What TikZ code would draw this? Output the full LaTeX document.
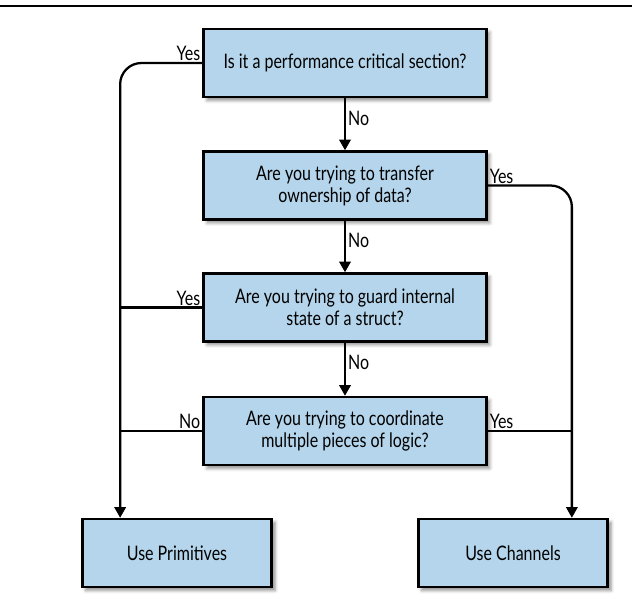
\documentclass[tikz,border=0pt]{standalone}
\usepackage{fontspec}
\setmainfont{Lato}[FakeStretch=0.8]
\usepackage{xcolor}
\usetikzlibrary{arrows.meta,calc,shadows.blur}
\definecolor{boxblue}{RGB}{180,213,235}

\begin{document}
\begin{tikzpicture}[x=0.75pt,y=-0.75pt,
		font=\fontsize{15}{16.5}\selectfont,
		decision/.style={draw=black,line width=1.8pt,fill=boxblue,align=center,
			minimum width=212pt,minimum height=51pt,inner sep=2pt,
			blur shadow={shadow xshift=2.5pt,shadow yshift=-2.5pt,shadow blur radius=2.5pt,shadow opacity=45}},
		result/.style={decision,minimum width=142pt},
		flow/.style={line width=1.7pt},
		arr/.style={flow,-{Triangle[width=8.5pt,length=8pt]}},
		lbl/.style={inner sep=1.5pt}]
		\useasboundingbox (0,0) rectangle (632,610);
		\draw[line width=1.2pt](0,6)--(632,6);
		% questions
		\node[decision] (q1) at (345,63) {Is it a performance critical section?};
		\node[decision] (q2) at (345,185.5) {Are you trying to transfer\\ownership of data?};
		\node[decision] (q3) at (345,307.5) {Are you trying to guard internal\\state of a struct?};
		\node[decision] (q4) at (345,431) {Are you trying to coordinate\\multiple pieces of logic?};
		% answers
		\node[result] (prim) at (177,553) {Use Primitives};
		\node[result] (chan) at (513,553) {Use Channels};
		\coordinate (pin) at ($(prim.north west)+(39,0)$);
		\coordinate (cin) at ($(chan.north east)+(-37,0)$);
		% No branches
		\draw[arr](q1)--(q2)node[pos=0.38,right,lbl]{No};
		\draw[arr](q2)--(q3)node[pos=0.38,right,lbl]{No};
		\draw[arr](q3)--(q4)node[pos=0.38,right,lbl]{No};
		% side branches
		\draw[arr,rounded corners=16pt](q1.west)-|(pin);
		\draw[arr,rounded corners=16pt](q2.east)-|(cin);
		\draw[flow](q3.west)--(q3.west-|pin);
		\draw[flow](q4.west)--(q4.west-|pin);
		\draw[flow](q4.east)--(q4.east-|cin);
		\node at(q1.west)[above left,lbl]{Yes};
		\node at(q2.east)[above right,lbl]{Yes};
		\node at(q3.west)[above left,lbl]{Yes};
		\node at(q4.west)[above left,lbl]{No};
		\node at(q4.east)[above right,lbl]{Yes};
		\end{tikzpicture}
\end{document}
